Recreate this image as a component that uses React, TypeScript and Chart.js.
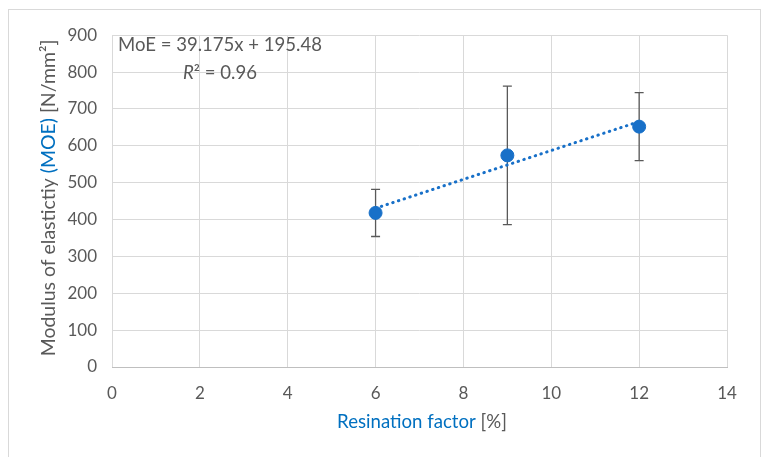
import React, { useEffect, useRef } from "react";
import { Chart, registerables } from "chart.js";

Chart.register(...registerables);

// ---- data ----
const resinationFactor = [6, 9, 12];
const moeValues = [418, 574, 652];
const moeErrors = [64, 188, 92];
const trendSlope = 39.175;
const trendIntercept = 195.48;
const trendRange = [6, 12];
const xTickStep = 2;
const yTickStep = 100;
const equationText = "MoE = 39.175x + 195.48";
const r2Text = "² = 0.96";

const GRAY = "#595959";
const BLUE = "#0070C0";
const POINT_BLUE = "#1870C8";
const FONT = "Lato, 'Open Sans', sans-serif";

type Seg = { t: string; c: string; italic?: boolean };

function fitSize(ctx: CanvasRenderingContext2D, segs: Seg[], target: number) {
  let w = 0;
  for (const s of segs) {
    ctx.font = `${s.italic ? "italic " : ""}100px ${FONT}`;
    w += ctx.measureText(s.t).width;
  }
  return (100 * target) / w;
}

function drawSegs(ctx: CanvasRenderingContext2D, segs: Seg[], size: number, cx: number, cy: number) {
  let total = 0;
  for (const s of segs) {
    ctx.font = `${s.italic ? "italic " : ""}${size}px ${FONT}`;
    total += ctx.measureText(s.t).width;
  }
  let x = cx - total / 2;
  ctx.textBaseline = "middle";
  ctx.textAlign = "left";
  for (const s of segs) {
    ctx.font = `${s.italic ? "italic " : ""}${size}px ${FONT}`;
    ctx.fillStyle = s.c;
    ctx.fillText(s.t, x, cy);
    x += ctx.measureText(s.t).width;
  }
}

const errorBarPlugin = {
  id: "errorBars",
  beforeDatasetsDraw(chart: any) {
    const { ctx, scales } = chart;
    const xs = scales.x;
    const ys = scales.y;
    ctx.save();
    ctx.strokeStyle = GRAY;
    ctx.lineWidth = 1.3;
    resinationFactor.forEach((xv, i) => {
      const px = xs.getPixelForValue(xv);
      const top = ys.getPixelForValue(moeValues[i] + moeErrors[i]);
      const bot = ys.getPixelForValue(moeValues[i] - moeErrors[i]);
      ctx.beginPath();
      ctx.moveTo(px, top);
      ctx.lineTo(px, bot);
      ctx.moveTo(px - 4.5, top);
      ctx.lineTo(px + 4.5, top);
      ctx.moveTo(px - 4.5, bot);
      ctx.lineTo(px + 4.5, bot);
      ctx.stroke();
    });
    ctx.restore();
  },
};

const textPlugin = {
  id: "titlesAndEquation",
  afterDraw(chart: any) {
    const { ctx } = chart;
    ctx.save();
    // y axis title
    const ySegs: Seg[] = [
      { t: "Modulus of elastictiy ", c: GRAY },
      { t: "(MOE)", c: BLUE },
      { t: " [N/mm²]", c: GRAY },
    ];
    const ySize = fitSize(ctx, ySegs, 317);
    ctx.save();
    ctx.translate(40, 188);
    ctx.rotate(-Math.PI / 2);
    drawSegs(ctx, ySegs, ySize, 0, 0);
    ctx.restore();
    // x axis title
    const xSegs: Seg[] = [
      { t: "Resination factor", c: BLUE },
      { t: " [%]", c: GRAY },
    ];
    const xSize = fitSize(ctx, xSegs, 170);
    drawSegs(ctx, xSegs, xSize, 413, 412);
    // equation
    const eqSegs: Seg[] = [{ t: equationText, c: GRAY }];
    const eqSize = fitSize(ctx, eqSegs, 204);
    drawSegs(ctx, eqSegs, eqSize, 211, 35);
    drawSegs(
      ctx,
      [
        { t: "R", c: GRAY, italic: true },
        { t: r2Text, c: GRAY },
      ],
      eqSize,
      211,
      63
    );
    ctx.restore();
  },
};

export default function App() {
  const ref = useRef<HTMLCanvasElement | null>(null);
  useEffect(() => {
    if (!ref.current) return;
    const points = resinationFactor.map((x, i) => ({ x, y: moeValues[i] }));
    const trend = trendRange.map((x) => ({ x, y: trendSlope * x + trendIntercept }));
    const chart = new Chart(ref.current, {
      type: "scatter",
      data: {
        datasets: [
          {
            label: "MOE",
            data: points,
            backgroundColor: POINT_BLUE,
            borderColor: POINT_BLUE,
            pointRadius: 6.5,
            pointHoverRadius: 6.5,
            order: 0,
          },
          {
            type: "line",
            label: "Trend",
            data: trend,
            borderColor: POINT_BLUE,
            borderWidth: 3,
            borderDash: [0.5, 5.5],
            borderCapStyle: "round",
            pointRadius: 0,
            fill: false,
            order: 1,
          } as any,
        ],
      },
      options: {
        animation: false,
        responsive: false,
        layout: { padding: { left: 0, top: 22, right: 32, bottom: 0 } },
        plugins: {
          legend: { display: false },
          tooltip: { enabled: false },
        },
        scales: {
          x: {
            type: "linear",
            min: 0,
            max: 14,
            afterFit(scale: any) {
              scale.height = 90;
            },
            ticks: {
              stepSize: xTickStep,
              color: GRAY,
              padding: 16,
              font: { family: FONT, size: 17 },
            },
            grid: { color: "#d9d9d9", drawTicks: false, lineWidth: 1 },
            border: { display: true, color: "#bfbfbf", width: 1 },
          },
          y: {
            type: "linear",
            min: 0,
            max: 900,
            afterFit(scale: any) {
              scale.width = 103;
            },
            ticks: {
              stepSize: yTickStep,
              color: GRAY,
              padding: 15,
              font: { family: FONT, size: 17 },
            },
            grid: { color: "#d9d9d9", drawTicks: false, lineWidth: 1 },
            border: { display: false },
          },
        },
      },
      plugins: [errorBarPlugin, textPlugin],
    });
    return () => chart.destroy();
  }, []);
  return (
    <div
      style={{
        position: "relative",
        top: 1,
        width: 751,
        height: 447,
        border: "1px solid #d9d9d9",
        background: "#fff",
      }}
    >
      <canvas ref={ref} width={750} height={447} style={{ display: "block" }} />
    </div>
  );
}
